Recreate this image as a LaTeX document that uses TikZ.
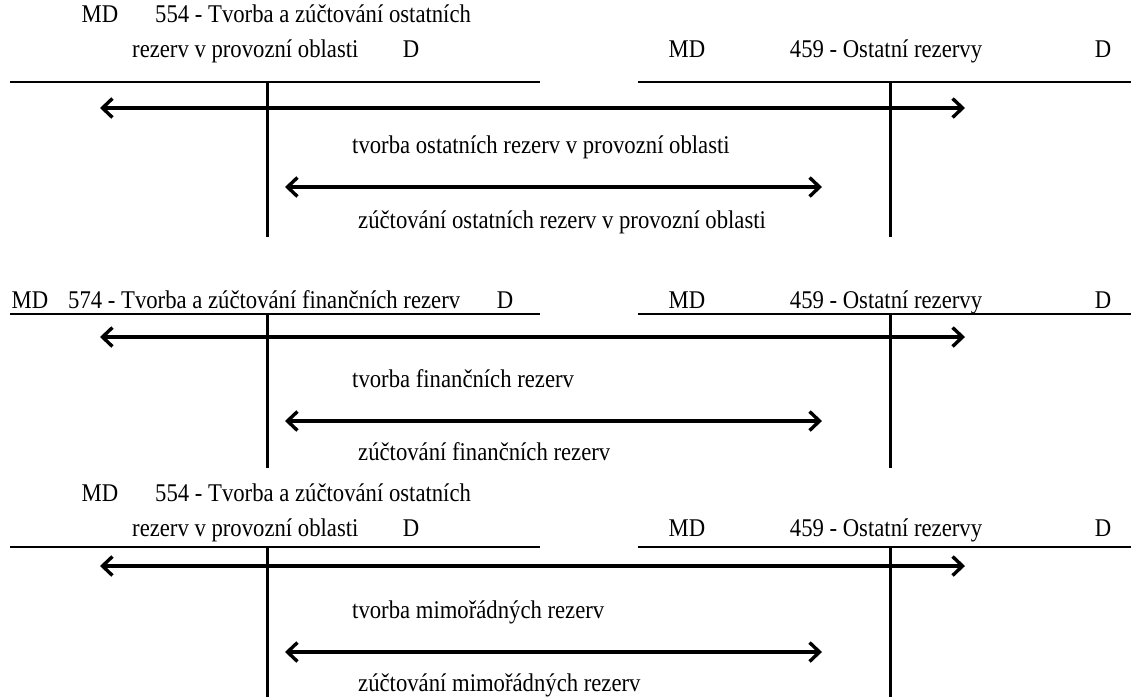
\documentclass[tikz,border=0pt]{standalone}
\usepackage{fontspec}
\setmainfont{Liberation Serif}[FakeStretch=0.89]
\usetikzlibrary{arrows.meta}
\begin{document}
\begin{tikzpicture}[x=1pt,y=-1pt,
  lbl/.style={inner sep=0pt,font=\fontsize{25.5}{28}\selectfont,anchor=base},
  hline/.style={line width=2.4pt},
  vline/.style={line width=3pt},
  flow/.style={line width=3.4pt,{Straight Barb[length=10pt,width=19pt,line width=3.4pt]}-{Straight Barb[length=10pt,width=19pt,line width=3.4pt]}}]
\useasboundingbox (0,0) rectangle (1131,697);
% ---------- block 1 ----------
\node[lbl] (b1md) at (100,22) {MD};
\node[lbl,anchor=base west] (b1t1) at (155,22) {554 - Tvorba a zúčtování ostatních};
\node[lbl,anchor=base west] (b1t2) at (132,57) {rezerv v provozní oblasti};
\node[lbl] (b1d) at (411,57) {D};
\node[lbl] (b1rmd) at (687,57) {MD};
\node[lbl] (b1rt) at (886,57) {459 - Ostatní rezervy};
\node[lbl] (b1rd) at (1103,57) {D};
\draw[hline] (10,82) coordinate (b1l1) -- (540,82) coordinate (b1l2);
\draw[hline] (638,82) coordinate (b1r1) -- (1131,82) coordinate (b1r2);
\draw[vline] (267,82) coordinate (b1lv1) -- (267,237) coordinate (b1lv2);
\draw[vline] (890,82) coordinate (b1rv1) -- (890,237) coordinate (b1rv2);
\coordinate (b1a1) at (100,108); \coordinate (b1a2) at (965,108);
\draw[flow] (b1a1) -- (b1a2);
\node[lbl,anchor=base west] (b1x1) at (352,153) {tvorba ostatních rezerv v provozní oblasti};
\coordinate (b1c1) at (285,187); \coordinate (b1c2) at (822,187);
\draw[flow] (b1c1) -- (b1c2);
\node[lbl,anchor=base west] (b1x2) at (358,228) {zúčtování ostatních rezerv v provozní oblasti};
% ---------- block 2 ----------
\node[lbl] (b2md) at (30,308) {MD};
\node[lbl,anchor=base west] (b2t1) at (68,308) {574 - Tvorba a zúčtování finančních rezerv};
\node[lbl] (b2d) at (505,308) {D};
\node[lbl] (b2rmd) at (687,308) {MD};
\node[lbl] (b2rt) at (886,308) {459 - Ostatní rezervy};
\node[lbl] (b2rd) at (1103,308) {D};
\draw[hline] (10,314) coordinate (b2l1) -- (540,314) coordinate (b2l2);
\draw[hline] (638,314) coordinate (b2r1) -- (1131,314) coordinate (b2r2);
\draw[vline] (267,314) coordinate (b2lv1) -- (267,468) coordinate (b2lv2);
\draw[vline] (890,314) coordinate (b2rv1) -- (890,468) coordinate (b2rv2);
\coordinate (b2a1) at (100,337); \coordinate (b2a2) at (965,337);
\draw[flow] (b2a1) -- (b2a2);
\node[lbl,anchor=base west] (b2x1) at (352,387) {tvorba finančních rezerv};
\coordinate (b2c1) at (285,421); \coordinate (b2c2) at (822,421);
\draw[flow] (b2c1) -- (b2c2);
\node[lbl,anchor=base west] (b2x2) at (358,460) {zúčtování finančních rezerv};
% ---------- block 3 ----------
\node[lbl] (b3md) at (100,501) {MD};
\node[lbl,anchor=base west] (b3t1) at (155,501) {554 - Tvorba a zúčtování ostatních};
\node[lbl,anchor=base west] (b3t2) at (132,536) {rezerv v provozní oblasti};
\node[lbl] (b3d) at (411,536) {D};
\node[lbl] (b3rmd) at (687,536) {MD};
\node[lbl] (b3rt) at (886,536) {459 - Ostatní rezervy};
\node[lbl] (b3rd) at (1103,536) {D};
\draw[hline] (10,547) coordinate (b3l1) -- (540,547) coordinate (b3l2);
\draw[hline] (638,547) coordinate (b3r1) -- (1131,547) coordinate (b3r2);
\draw[vline] (267,547) coordinate (b3lv1) -- (267,697) coordinate (b3lv2);
\draw[vline] (890,547) coordinate (b3rv1) -- (890,697) coordinate (b3rv2);
\coordinate (b3a1) at (100,566); \coordinate (b3a2) at (965,566);
\draw[flow] (b3a1) -- (b3a2);
\node[lbl,anchor=base west] (b3x1) at (352,618) {tvorba mimořádných rezerv};
\coordinate (b3c1) at (285,652); \coordinate (b3c2) at (822,652);
\draw[flow] (b3c1) -- (b3c2);
\node[lbl,anchor=base west] (b3x2) at (358,691) {zúčtování mimořádných rezerv};
\end{tikzpicture}
\end{document}
